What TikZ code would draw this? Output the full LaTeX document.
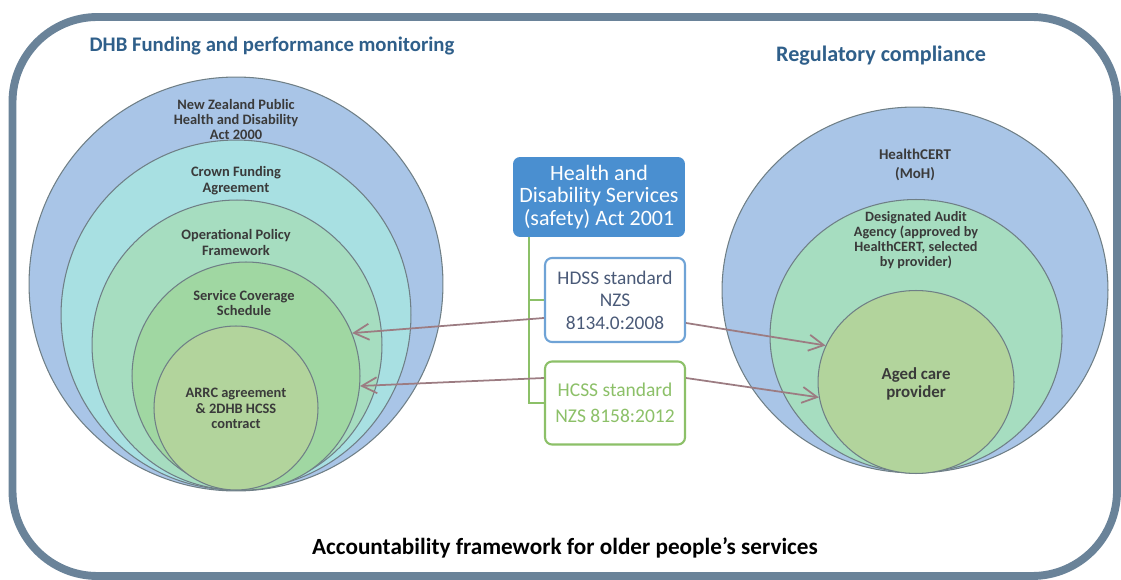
\documentclass[tikz,border=0pt]{standalone}
\usepackage{fontspec}
\setmainfont{Carlito}
\usepackage{tikz}
\usetikzlibrary{shapes.geometric,arrows.meta}
\definecolor{frameblue}{HTML}{6A8399}
\definecolor{titleblue}{HTML}{2F5F8A}
\definecolor{ringline}{HTML}{6F7F86}
\definecolor{labelgray}{HTML}{3A3A3A}
\definecolor{outerblue}{HTML}{A9C5E7}
\definecolor{cyanring}{HTML}{A8E0E2}
\definecolor{mintring}{HTML}{A6DDC0}
\definecolor{greenring}{HTML}{A0D7A2}
\definecolor{oliveringt}{HTML}{B2D49C}
\definecolor{actblue}{HTML}{4A8FD0}
\definecolor{hdssblue}{HTML}{6FA3D6}
\definecolor{hdsstext}{HTML}{4A5A78}
\definecolor{hcssgreen}{HTML}{8CC068}
\definecolor{linkmauve}{HTML}{9C7C82}

\begin{document}
\begin{tikzpicture}[x=0.02cm,y=-0.02cm,
	ring/.style={circle,draw=ringline,line width=0.6pt,inner sep=0pt},
	oval/.style={ellipse,draw=ringline,line width=0.6pt,inner sep=0pt},
	ringtext/.style={align=center,text=labelgray,font=\bfseries\fontsize{8.2}{8.8}\selectfont},
	title/.style={text=titleblue,font=\bfseries\fontsize{11.8}{13}\selectfont},
	stdbox/.style={draw,fill=white,line width=1.2pt,rounded corners=4pt,align=center,minimum width=2.8cm},
	link/.style={-{Straight Barb[length=3mm,width=3.2mm]},draw=linkmauve,line width=1pt},
	tree/.style={draw=hcssgreen,line width=1.2pt}]
	\useasboundingbox (0,0) rectangle (1121,580);
	\draw [frameblue,line width=4.5pt,rounded corners=1.7cm] (12.5,17) rectangle (1117,576);
	\node[title] (t1) at (272,46) {DHB Funding and performance monitoring};
	\node[title,font=\bfseries\fontsize{12.6}{14}\selectfont] (t2) at (881,56) {Regulatory compliance};
	\node[font=\bfseries\fontsize{13.2}{15}\selectfont] (t3) at (565,548) {Accountability framework for older people’s services};
	\node[ring,fill=outerblue,minimum size=8.28cm] (c1) at (236,284) {};
	\node[ring,fill=cyanring,minimum size=7cm] (c2) at (236,315) {};
	\node[ring,fill=mintring,minimum size=5.8cm] (c3) at (237,345) {};
	\node[ring,fill=greenring,minimum size=4.56cm] (c4) at (246,376) {};
	\node[ring,fill=oliveringt,minimum size=3.28cm] (c5) at (236,408) {};
	\node[ringtext] (l1) at (236,119.5) {New Zealand Public\\Health and Disability\\Act 2000};
	\node[ringtext] (l2) at (236,180.5) {Crown Funding\\Agreement};
	\node[ringtext] (l3) at (236,242.5) {Operational Policy\\Framework};
	\node[ringtext] (l4) at (244,303) {Service Coverage\\Schedule};
	\node[ringtext] (l5) at (236,408.5) {ARRC agreement\\\& 2DHB HCSS\\contract};
	\node[oval,fill=outerblue,minimum width=7.72cm,minimum height=7.32cm] (r1) at (915,290) {};
	\node[oval,fill=mintring,minimum width=5.84cm,minimum height=5.46cm] (r2) at (916,336) {};
	\node[oval,fill=oliveringt,minimum width=3.92cm,minimum height=3.66cm] (r3) at (916,382) {};
	\node[ringtext,font=\bfseries\fontsize{8.5}{11}\selectfont] (m1) at (915,165) {HealthCERT\\(MoH)};
	\node[ringtext,font=\bfseries\fontsize{8.1}{8.5}\selectfont] (m2) at (916,240) {Designated Audit\\Agency (approved by\\HealthCERT, selected\\by provider)};
	\node[ringtext,font=\bfseries\fontsize{9.6}{10.2}\selectfont] (m3) at (916,384) {Aged care\\provider};
	\node[fill=actblue,text=white,rounded corners=4pt,align=center,minimum width=3.44cm,minimum height=1.6cm,font=\fontsize{12.5}{12.8}\selectfont] (act) at (599,197) {Health and\\Disability Services\\(safety) Act 2001};
	\node[stdbox,draw=hdssblue,text=hdsstext,minimum height=1.68cm,font=\fontsize{11}{12.8}\selectfont] (hdss) at (615,300) {HDSS standard\\NZS\\8134.0:2008};
	\node[stdbox,draw=hcssgreen,text=hcssgreen,minimum height=1.66cm,font=\fontsize{11.1}{15}\selectfont] (hcss) at (615,403) {HCSS standard\\NZS 8158:2012};
	\draw [tree] ([xshift=0.32cm]act.south west) |- (hdss.west);
	\draw [tree] ([xshift=0.32cm]act.south west) |- (hcss.west);
	\draw [link] ([yshift=-0.36cm]hdss.west) -- (c4.22);
	\draw [link] ([yshift=-0.46cm]hdss.east) -- (r3.158);
	\draw [link] ([yshift=0.5cm]hcss.west) -- (c4.-5);
	\draw [link] ([yshift=0.5cm]hcss.east) -- (r3.189);
\end{tikzpicture}
\end{document}
